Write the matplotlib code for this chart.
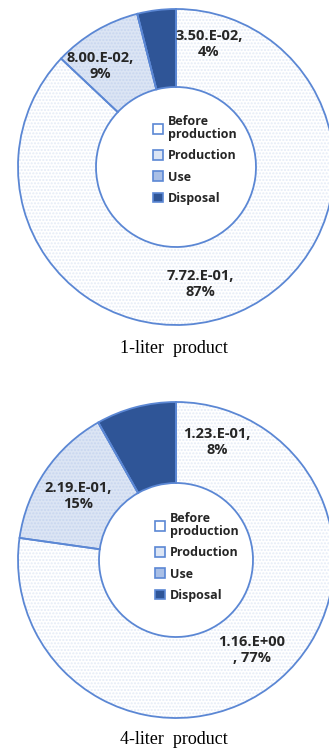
import numpy as np
import matplotlib
matplotlib.use('Agg')
import matplotlib.pyplot as plt
from matplotlib.patches import Patch

stages = ['Before\nproduction', 'Production', 'Use', 'Disposal']
vals_1l = [7.72e-01, 8.00e-02, 0.0, 3.50e-02]
vals_4l = [1.16e+00, 2.19e-01, 0.0, 1.23e-01]
labels_1l = ['7.72.E-01,\n87%', '8.00.E-02,\n9%', '', '3.50.E-02,\n4%']
labels_4l = ['1.16.E+00\n, 77%', '2.19.E-01,\n15%', '', '1.23.E-01,\n8%']
captions = ['1-liter  product', '4-liter  product']

fills = ['#ffffff', '#dce5f4', '#a9bfe6', '#2f5597']
hatch_col = ['#e4ebf7', '#c8d6f0', '#8aa6dc', '#2f5597']
edge = '#5b87d4'
bold_font = ['Open Sans', 'DejaVu Sans']

W, H = 329, 753
fig = plt.figure(figsize=(W / 100, H / 100), dpi=100)
ax = fig.add_axes([0, 0, 1, 1])

# pixel positions (y measured from top of image)
charts = [
    dict(vals=vals_1l, labels=labels_1l, cx=176, cy=167, r=158, w=78,
         lab_xy=[(200, 284), (100, 66), None, (209, 44)], leg_xy=(147, 160), cap_y=348),
    dict(vals=vals_4l, labels=labels_4l, cx=176, cy=560, r=158, w=81,
         lab_xy=[(252, 650), (78, 496), None, (217, 442)], leg_xy=(149, 557), cap_y=740),
]

legends = []
for c in charts:
    center = (c['cx'], H - c['cy'])
    # hatched fill layer
    wedges, _ = ax.pie(c['vals'], radius=c['r'], center=center, startangle=90,
                       counterclock=False, colors=fills,
                       wedgeprops=dict(width=c['w'], linewidth=0), frame=True)
    for wdg, hc, fc in zip(wedges, hatch_col, fills):
        if fc != '#2f5597':
            wdg.set_hatch('.....')
            wdg.set_edgecolor(hc)
    # outlines
    ax.pie(c['vals'], radius=c['r'], center=center, startangle=90,
           counterclock=False, colors=['none'] * 4,
           wedgeprops=dict(width=c['w'], linewidth=1.3, edgecolor=edge), frame=True)
    for lab, xy in zip(c['labels'], c['lab_xy']):
        if xy is None:
            continue
        ax.text(xy[0], H - xy[1], lab, ha='center', va='center', fontsize=10.5,
                fontweight='bold', family=bold_font, color='#262626', linespacing=1.15)
    handles = [Patch(facecolor=f, edgecolor=edge, linewidth=1.2) for f in fills]
    leg = ax.legend(handles, stages, loc='center left',
                    bbox_to_anchor=(c['leg_xy'][0], H - c['leg_xy'][1]),
                    bbox_transform=ax.transData, frameon=False,
                    handlelength=0.8, handleheight=0.8, handletextpad=0.4,
                    labelspacing=0.65, borderpad=0,
                    prop=dict(family=bold_font, weight='bold', size=9))
    for t in leg.get_texts():
        t.set_color('#262626')
        t.set_linespacing(1.0)
    legends.append(leg)
ax.add_artist(legends[0])

for c, cap in zip(charts, captions):
    ax.text(c['cx'] - 2, H - c['cap_y'], cap, ha='center', va='center',
            fontsize=13, family='Liberation Serif', color='black')

ax.set_xlim(0, W)
ax.set_ylim(0, H)
ax.set_aspect('equal')
ax.axis('off')
fig.savefig('out.png', dpi=100)
